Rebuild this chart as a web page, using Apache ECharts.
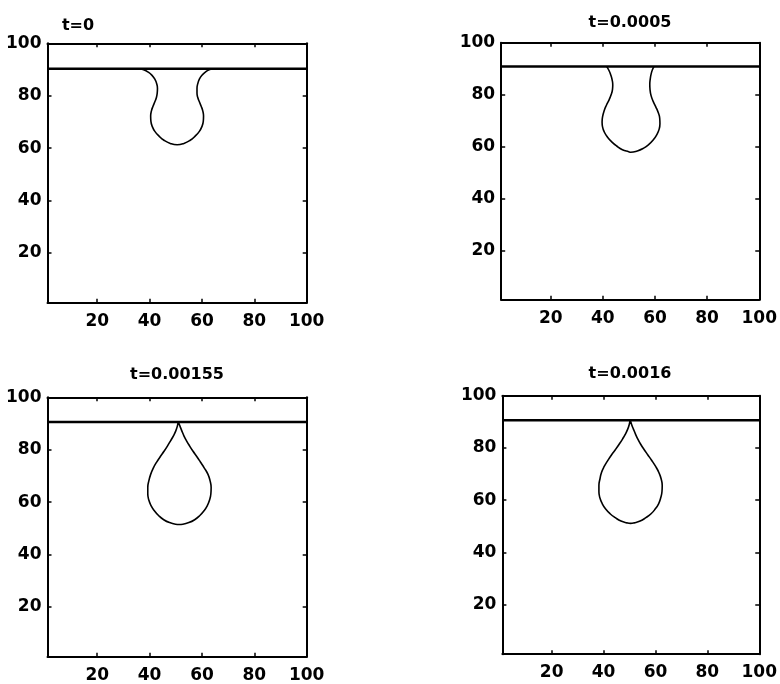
<!DOCTYPE html>
<html>
<head>
<meta charset="utf-8">
<script src="https://cdn.jsdelivr.net/npm/echarts@6/dist/echarts.min.js"></script>
<style>html,body{margin:0;padding:0;background:#fff;}#c{width:780px;height:684px;}</style>
</head>
<body>
<div id="c"></div>
<script>
// ---- data ----
const panelTitles = ['t=0', 't=0.0005', 't=0.00155', 't=0.0016'];
const tickValues = [20, 40, 60, 80, 100];
const axisRange = [1, 100];
const interfaceLevel = [90.3, 90.8, 90.6, 90.6];

const bubbleT0 = [[35.8,90.3],[37.7,89.9],[39.5,89.0],[40.9,87.8],[42.0,86.3],[42.7,84.6],[43.0,82.8],[42.9,81.0],[42.6,79.3],[42.0,77.7],[41.3,76.0],[40.7,74.2],[40.4,72.3],[40.5,70.2],[41.0,68.3],[42.0,66.4],[43.6,64.6],[45.5,63.0],[47.9,61.8],[50.5,61.3],[53.1,61.8],[55.5,63.0],[57.4,64.6],[59.0,66.4],[60.0,68.3],[60.5,70.2],[60.6,72.3],[60.3,74.2],[59.7,76.0],[59.0,77.7],[58.4,79.3],[58.1,81.0],[58.1,82.8],[58.4,84.6],[59.0,86.3],[60.0,87.8],[61.3,89.0],[62.7,89.9],[64.0,90.3]];
const bubbleT0005 = [[41.5,90.8],[42.4,89.2],[43.1,87.4],[43.6,85.5],[43.8,83.7],[43.7,82.0],[43.2,80.0],[42.4,78.0],[41.4,76.0],[40.5,73.8],[39.9,71.5],[39.7,69.5],[39.9,67.5],[40.6,65.5],[41.8,63.6],[43.4,61.8],[45.3,60.2],[47.5,58.8],[49.9,58.0],[50.7,57.8],[53.2,58.3],[55.5,59.3],[57.5,60.7],[59.3,62.5],[60.7,64.6],[61.6,66.7],[61.9,68.8],[61.8,71.0],[61.2,73.2],[60.3,75.3],[59.3,77.4],[58.5,79.6],[58.1,81.8],[58.0,84.0],[58.2,86.2],[58.6,88.3],[59.1,89.8],[59.6,90.8]];
const bubbleT00155 = [[50.9,90.6],[50.6,89.0],[50.0,87.2],[49.1,85.3],[48.0,83.4],[46.8,81.4],[45.5,79.4],[44.1,77.4],[42.7,75.3],[41.4,73.0],[40.4,70.6],[39.7,68.1],[39.3,65.6],[39.3,63.2],[39.7,60.8],[40.6,58.6],[41.9,56.6],[43.5,54.8],[45.4,53.3],[47.6,52.2],[49.9,51.6],[51.3,51.5],[52.7,51.6],[55.0,52.2],[57.2,53.3],[59.1,54.8],[60.7,56.6],[62.0,58.6],[62.9,60.8],[63.4,63.2],[63.5,65.6],[63.1,68.1],[62.3,70.6],[60.9,73.0],[59.4,75.3],[58.0,77.4],[56.6,79.4],[55.3,81.4],[54.1,83.4],[53.1,85.3],[52.3,87.2],[51.6,89.0],[51.0,90.6]];
const bubbleT0016 = [[50.2,90.6],[49.9,89.0],[49.3,87.2],[48.4,85.3],[47.3,83.4],[46.0,81.4],[44.6,79.4],[43.1,77.4],[41.7,75.3],[40.3,73.0],[39.2,70.6],[38.6,68.1],[38.2,65.6],[38.2,63.2],[38.6,60.8],[39.5,58.6],[40.8,56.6],[42.5,54.8],[44.5,53.3],[46.7,52.0],[49.0,51.3],[50.4,51.1],[51.8,51.3],[54.1,52.0],[56.3,53.3],[58.3,54.8],[59.9,56.6],[61.2,58.6],[62.0,60.8],[62.5,63.2],[62.6,65.6],[62.2,68.1],[61.3,70.6],[60.0,73.0],[58.5,75.3],[57.0,77.4],[55.6,79.4],[54.3,81.4],[53.2,83.4],[52.3,85.3],[51.5,87.2],[50.8,89.0],[50.3,90.6]];
const bubbles = [bubbleT0, bubbleT0005, bubbleT00155, bubbleT0016];

// ---- layout ----
const grids = [
  {left: 47.5, top: 43.3, width: 259.2, height: 259.5},
  {left: 501.2, top: 42.7, width: 258.1, height: 257.0},
  {left: 47.5, top: 397.3, width: 259.2, height: 259.5},
  {left: 502.4, top: 395.7, width: 259.9, height: 258.5}
];
const titlePos = [[78, 17.5], [630, 15], [177, 367], [630, 366]];
const FONT = 'DejaVu Sans';

const xAxes = [], yAxes = [], series = [], titles = [];
grids.forEach((g, i) => {
  const common = {
    type: 'value', gridIndex: i, min: axisRange[0], max: axisRange[1],
    splitLine: {show: false},
    axisLine: {show: true, onZero: false, lineStyle: {color: '#000', width: 2}},
    axisTick: {show: true, inside: true, length: 4, customValues: tickValues, lineStyle: {color: '#000', width: 1.5}}
  };
  const labelStyle = {color: '#000', fontFamily: FONT, fontSize: 17, fontWeight: 'bold'};
  xAxes.push(Object.assign({}, common, {position: 'bottom',
    axisLabel: Object.assign({show: true, customValues: tickValues, margin: 10}, labelStyle)}));
  xAxes.push(Object.assign({}, common, {position: 'top', axisLabel: {show: false}}));
  yAxes.push(Object.assign({}, common, {position: 'left',
    axisLabel: Object.assign({show: true, customValues: tickValues, margin: 6}, labelStyle)}));
  yAxes.push(Object.assign({}, common, {position: 'right', axisLabel: {show: false}}));

  series.push({
    type: 'line', xAxisIndex: 2 * i, yAxisIndex: 2 * i, symbol: 'none', animation: false,
    data: [[axisRange[0], interfaceLevel[i]], [axisRange[1], interfaceLevel[i]]],
    lineStyle: {color: '#000', width: 2.5}
  });
  series.push({
    type: 'line', xAxisIndex: 2 * i, yAxisIndex: 2 * i, symbol: 'none', animation: false,
    smooth: 0.5, data: bubbles[i],
    lineStyle: {color: '#000', width: 1.6}
  });
  titles.push({
    text: panelTitles[i], left: titlePos[i][0], top: titlePos[i][1], textAlign: 'center', padding: 0,
    textStyle: {fontFamily: FONT, fontSize: 16, fontWeight: 'bold', color: '#000'}
  });
});

const chart = echarts.init(document.getElementById('c'), null, {renderer: 'canvas'});
chart.setOption({
  backgroundColor: '#fff',
  animation: false,
  title: titles,
  grid: grids.map(g => Object.assign({containLabel: false}, g)),
  xAxis: xAxes,
  yAxis: yAxes,
  series: series
});
</script>
</body>
</html>
